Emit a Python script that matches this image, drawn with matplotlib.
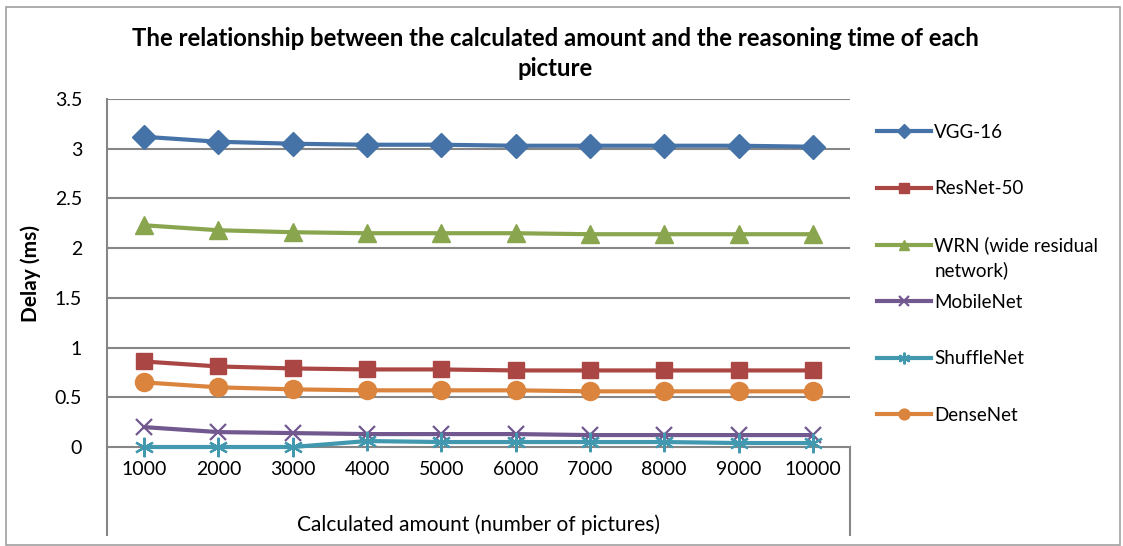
import matplotlib.pyplot as plt
from matplotlib.patches import Rectangle

plt.rcParams['font.family'] = ['Lato', 'DejaVu Sans']

amounts = ["1000", "2000", "3000", "4000", "5000", "6000", "7000", "8000", "9000", "10000"]

vgg16 = [3.12, 3.07, 3.05, 3.04, 3.04, 3.03, 3.03, 3.03, 3.03, 3.02]
resnet50 = [0.86, 0.81, 0.79, 0.78, 0.78, 0.77, 0.77, 0.77, 0.77, 0.77]
wrn = [2.23, 2.18, 2.16, 2.15, 2.15, 2.15, 2.14, 2.14, 2.14, 2.14]
mobilenet = [0.20, 0.15, 0.14, 0.13, 0.13, 0.13, 0.12, 0.12, 0.12, 0.12]
shufflenet = [0.0, 0.0, 0.0, 0.06, 0.05, 0.05, 0.05, 0.05, 0.04, 0.04]
densenet = [0.65, 0.60, 0.58, 0.57, 0.57, 0.57, 0.56, 0.56, 0.56, 0.56]

series = [
    ("VGG-16", vgg16, "#4572A7", "D"),
    ("ResNet-50", resnet50, "#AA4643", "s"),
    ("WRN (wide residual", wrn, "#89A54E", "^"),
    ("MobileNet", mobilenet, "#71588F", "x"),
    ("ShuffleNet", shufflenet, "#4198AF", "*"),
    ("DenseNet", densenet, "#DB843D", "o"),
]

W, H = 1123, 546
fig = plt.figure(figsize=(W / 100, H / 100), dpi=100)

# plot frame runs below y=0 to make room for the category labels
left, right, top, bottom = 107, 850, 99, 535
ax = fig.add_axes([left / W, 1 - bottom / H, (right - left) / W, (bottom - top) / H])
ymin = -0.885
ax.set_ylim(ymin, 3.5)
ax.set_xlim(-0.5, len(amounts) - 0.5)

x = list(range(len(amounts)))
grid_c = "#868686"
for val in [0.5, 1, 1.5, 2, 2.5, 3, 3.5]:
    ax.axhline(val, color=grid_c, lw=1.5, zorder=1)

for name, vals, color, mk in series:
    if mk == "x":
        ax.plot(x, vals, color=color, lw=3, marker="x", ms=12, mew=1.6, label=name, zorder=3)
    elif mk == "*":
        ax.plot(x, vals, color=color, lw=3, marker=(6, 2, 0), ms=14, mew=1.6, label=name, zorder=3)
    else:
        ms = {"D": 12, "s": 12, "^": 13, "o": 13}[mk]
        ax.plot(x, vals, color=color, lw=3, marker=mk, ms=ms, label=name, zorder=3)

for s in ["top", "right", "bottom"]:
    ax.spines[s].set_visible(False)
ax.spines["left"].set_color(grid_c)
ax.spines["left"].set_linewidth(1.5)
ax.plot([len(amounts) - 0.5] * 2, [ymin, 0], color=grid_c, lw=1.5, clip_on=False)

ax.set_yticks([0, 0.5, 1, 1.5, 2, 2.5, 3, 3.5])
ax.set_yticklabels(["0", "0.5", "1", "1.5", "2", "2.5", "3", "3.5"])
ax.tick_params(axis="y", length=0, pad=18, labelsize=14)
ax.set_xticks([])

# category axis sitting at y = 0
frac0 = -ymin / (3.5 - ymin)
cat = ax.secondary_xaxis(frac0)
cat.set_xticks(x)
cat.set_xticklabels(amounts)
cat.tick_params(length=0, pad=10, labelsize=14)
cat.spines["bottom"].set_color(grid_c)
cat.spines["bottom"].set_linewidth(1.5)

ax.set_xlabel("Calculated amount (number of pictures)", fontsize=15, labelpad=-15)
ax.set_ylabel("Delay (ms)", fontsize=15, fontweight="bold")
ax.yaxis.set_label_coords(-0.089, (1.75 - ymin) / (3.5 - ymin))

fig.text(555 / W, 1 - 38 / H, "The relationship between the calculated amount and the reasoning time of each",
         ha="center", va="center", fontsize=17.2, fontweight="bold")
fig.text(555 / W, 1 - 69 / H, "picture", ha="center", va="center", fontsize=17.2, fontweight="bold")

leg = fig.legend(loc="upper left", bbox_to_anchor=(877 / W, 1 - 124 / H), frameon=False,
                 fontsize=13.5, handlelength=2.9, handletextpad=0.15, labelspacing=2.1,
                 markerscale=0.6, borderaxespad=0, borderpad=0)
# wrapped second line of the WRN entry, drawn after the legend has been laid out
wrn_text = leg.get_texts()[2]
fig.add_artist(plt.Annotation("network)", xy=(0, 0), xycoords=wrn_text, xytext=(0, -5),
                              textcoords="offset points", va="top", ha="left", fontsize=13.5,
                              zorder=10))

fig.patches.append(Rectangle((6 / W, 1 / H), 1114 / W, 1 - 8 / H, transform=fig.transFigure,
                             fill=False, edgecolor="#A0A0A0", lw=1.2))

fig.savefig("out.png", dpi=100)
